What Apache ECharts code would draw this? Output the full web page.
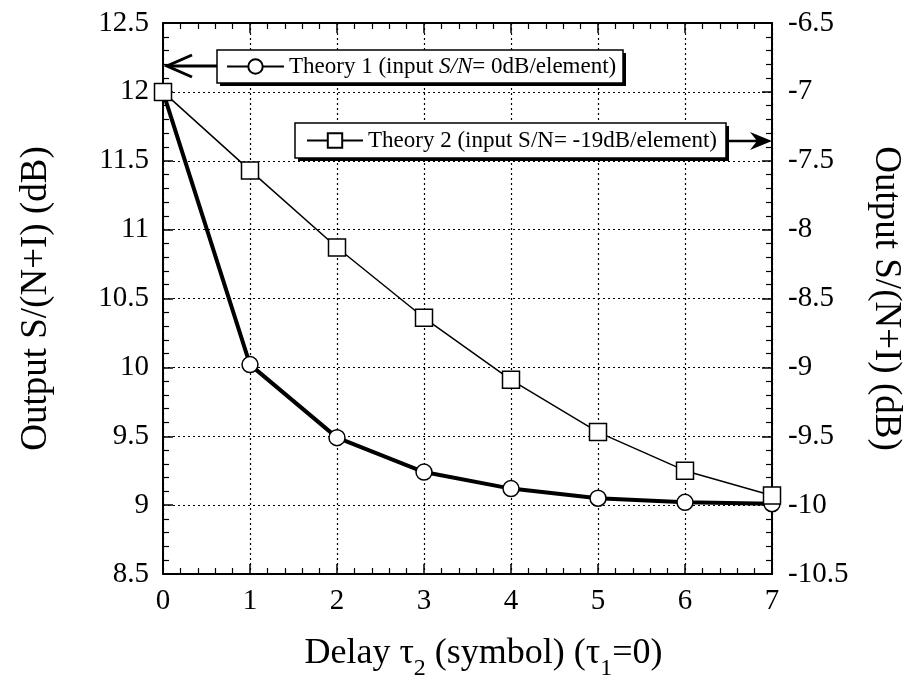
<!DOCTYPE html>
<html>
<head>
<meta charset="utf-8">
<script src="https://cdn.jsdelivr.net/npm/echarts@6/dist/echarts.min.js"></script>
<style>
html,body{margin:0;padding:0;background:#fff;}
#chart{width:912px;height:679px;}
</style>
</head>
<body>
<div id="chart"></div>
<script>
// ---- data ----
const delays = [0, 1, 2, 3, 4, 5, 6, 7];
const theory1 = [12.0, 10.02, 9.49, 9.24, 9.12, 9.05, 9.02, 9.01];        // left axis (dB)
const theory2 = [-7.0, -7.57, -8.13, -8.64, -9.09, -9.47, -9.75, -9.93];  // right axis (dB)
const name1 = 'Theory 1 (input S/N= 0dB/element)';
const name2 = 'Theory 2 (input S/N= -19dB/element)';
const xTitle = '{a|Delay τ}{s|2}{a| (symbol) (τ}{s|1}{a|=0)}';
const yTitle = 'Output S/(N+I) (dB)';

const FONT = '"Liberation Serif", "Times New Roman", serif';
const chart = echarts.init(document.getElementById('chart'), null, {renderer: 'canvas'});

const tickStyle = {lineStyle: {color: '#000', width: 1.5}};
const minorTick = (n) => ({show: true, splitNumber: n, length: 6, lineStyle: {color: '#000', width: 1.2}});

const boxStyle = {fill: '#fff', stroke: '#000', lineWidth: 1.5};

const option = {
  backgroundColor: '#fff',
  animation: false,
  grid: {left: 163, right: 140, top: 23, bottom: 105, containLabel: false, outerBoundsMode: 'none'},
  xAxis: [{
    type: 'value', min: 0, max: 7, interval: 1, position: 'bottom',
    name: xTitle, nameLocation: 'middle', nameGap: 53,
    nameTextStyle: {
      color: '#000', fontFamily: FONT, fontSize: 36, padding: [0, 0, 0, 32],
      rich: {
        a: {fontFamily: FONT, fontSize: 36, color: '#000'},
        s: {fontFamily: FONT, fontSize: 24, color: '#000', padding: [30, 0, 0, 0]}
      }
    },
    axisLine: {show: true, onZero: false, lineStyle: {color: '#000', width: 2}},
    axisTick: {show: true, inside: true, length: 10, ...tickStyle},
    minorTick: minorTick(5),
    axisLabel: {color: '#000', fontFamily: FONT, fontSize: 29, margin: 13},
    splitLine: {show: true, lineStyle: {color: '#000', width: 1.2, type: [2, 3]}}
  }, {
    type: 'value', min: 0, max: 7, interval: 1, position: 'top',
    axisLine: {show: true, onZero: false, lineStyle: {color: '#000', width: 2}},
    axisTick: {show: true, inside: true, length: 10, ...tickStyle},
    minorTick: minorTick(5),
    axisLabel: {show: false},
    splitLine: {show: false}
  }],
  yAxis: [{
    type: 'value', min: 8.5, max: 12.5, interval: 0.5, position: 'left',
    name: yTitle, nameLocation: 'middle', nameGap: 108, nameRotate: 90,
    nameTextStyle: {color: '#000', fontFamily: FONT, fontSize: 37},
    axisLine: {show: true, onZero: false, lineStyle: {color: '#000', width: 2}},
    axisTick: {show: true, inside: true, length: 10, ...tickStyle},
    minorTick: minorTick(5),
    axisLabel: {color: '#000', fontFamily: FONT, fontSize: 29, margin: 14},
    splitLine: {show: true, lineStyle: {color: '#000', width: 1.2, type: [2, 3]}}
  }, {
    type: 'value', min: -10.5, max: -6.5, interval: 0.5, position: 'right',
    name: yTitle, nameLocation: 'middle', nameGap: 95, nameRotate: -90,
    nameTextStyle: {color: '#000', fontFamily: FONT, fontSize: 37},
    axisLine: {show: true, onZero: false, lineStyle: {color: '#000', width: 2}},
    axisTick: {show: true, inside: true, length: 10, ...tickStyle},
    minorTick: minorTick(5),
    axisLabel: {color: '#000', fontFamily: FONT, fontSize: 29, margin: 16},
    splitLine: {show: false}
  }],
  legend: [{
    data: [name1], left: 217, top: 50, orient: 'horizontal', z: 20,
    padding: [5, 8, 5, 9], itemWidth: 57, itemHeight: 18,
    selectedMode: false,
    formatter: (n) => n.replace('S/N', '{i|S/N}'),
    textStyle: {color: '#000', fontFamily: FONT, fontSize: 23,
      rich: {i: {fontStyle: 'italic', fontFamily: FONT, fontSize: 23, color: '#000'}}}
  }, {
    data: [name2], left: 295, top: 124, orient: 'horizontal', z: 20,
    padding: [5, 8, 5, 11], itemWidth: 56, itemHeight: 18,
    selectedMode: false,
    textStyle: {color: '#000', fontFamily: FONT, fontSize: 23}
  }],
  graphic: [
    // legend 1 box with drop shadow
    {type: 'rect', shape: {x: 220, y: 53, width: 406, height: 33}, style: {fill: '#000'}, z: 10},
    {type: 'rect', shape: {x: 217, y: 50, width: 406, height: 33}, style: boxStyle, z: 11},
    // legend 2 box with drop shadow
    {type: 'rect', shape: {x: 298, y: 126, width: 431, height: 35}, style: {fill: '#000'}, z: 10},
    {type: 'rect', shape: {x: 295, y: 123, width: 431, height: 35}, style: boxStyle, z: 11},
    // arrow from legend 1 to left axis
    {type: 'line', shape: {x1: 217, y1: 66, x2: 168, y2: 66}, style: {stroke: '#000', lineWidth: 3}, z: 11},
    {type: 'polyline', shape: {points: [[192, 55], [167, 66], [192, 77]]}, style: {stroke: '#000', lineWidth: 3, fill: null}, z: 11},
    // arrow from legend 2 to right axis
    {type: 'line', shape: {x1: 729, y1: 141, x2: 762, y2: 141}, style: {stroke: '#000', lineWidth: 2.5}, z: 11},
    {type: 'polygon', shape: {points: [[772, 141], [750, 132], [757, 141], [750, 150]]}, style: {fill: '#000'}, z: 11}
  ],
  series: [{
    name: name1, type: 'line', xAxisIndex: 0, yAxisIndex: 0,
    data: delays.map((d, i) => [d, theory1[i]]),
    symbol: 'circle', symbolSize: 16,
    lineStyle: {color: '#000', width: 4},
    itemStyle: {color: '#fff', borderColor: '#000', borderWidth: 1.5}
  }, {
    name: name2, type: 'line', xAxisIndex: 0, yAxisIndex: 1,
    data: delays.map((d, i) => [d, theory2[i]]),
    symbol: 'rect', symbolSize: 17,
    lineStyle: {color: '#000', width: 1.5},
    itemStyle: {color: '#fff', borderColor: '#000', borderWidth: 1.5}
  }]
};
chart.setOption(option);
</script>
</body>
</html>
